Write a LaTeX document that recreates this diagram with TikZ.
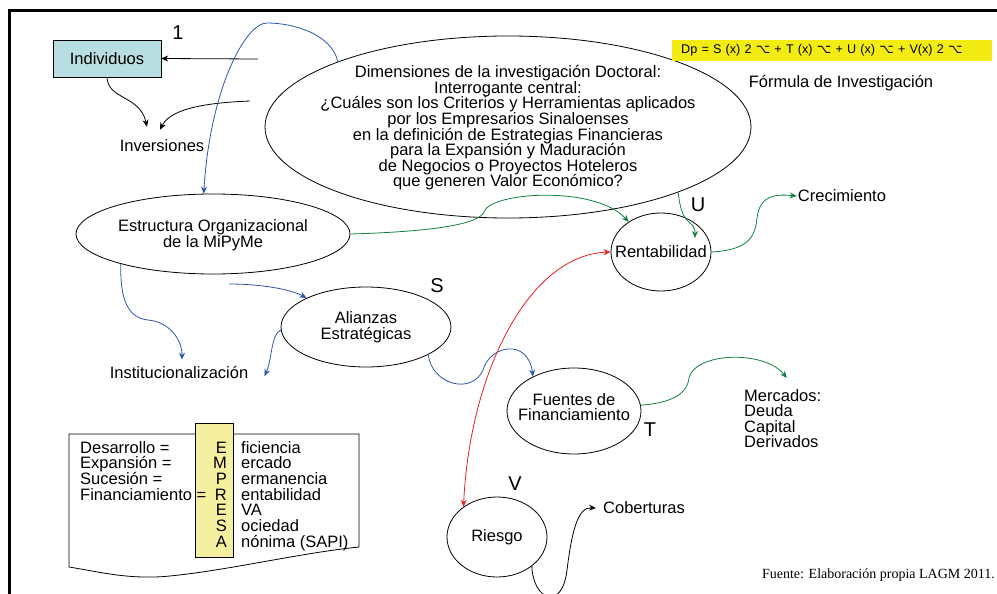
\documentclass[tikz,border=0pt]{standalone}
\usepackage{fontspec}
\setmainfont{Liberation Sans}
\newfontfamily\timesf{Liberation Serif}
\newfontfamily\symf{DejaVu Sans}
\usetikzlibrary{shapes.geometric,arrows.meta}
\definecolor{azul}{RGB}{47,84,170}
\definecolor{verde}{RGB}{16,128,64}
\definecolor{rojo}{RGB}{235,30,35}
\definecolor{cian}{RGB}{183,222,224}
\definecolor{amarillo}{RGB}{242,236,20}
\definecolor{crema}{RGB}{245,240,160}

\begin{document}
\begin{tikzpicture}[x=1pt,y=-1pt,
  font=\fontsize{16.5}{15.6}\selectfont,
  >={Stealth[length=7pt,width=6pt]},
  ell/.style={draw,ellipse,inner sep=0pt,line width=0.8pt},
  lbl/.style={inner sep=0pt},
  letra/.style={inner sep=0pt,font=\fontsize{20}{20}\selectfont},
  neg/.style={line width=0.8pt,->},
  az/.style={azul,line width=0.8pt,->},
  ve/.style={verde,line width=0.8pt,->}]
\useasboundingbox (0,0) rectangle (997,594);
\draw[line width=3pt] (9,600) -- (9,11) -- (1000,11);

% nodos
\node[draw,fill=cian,minimum width=108pt,minimum height=37pt,inner sep=0pt] (ind) at (107,58.5) {Individuos};
\node[letra] (uno) at (178,33) {1};
\node[lbl] (inv) at (162,146) {Inversiones};

\node[ell,minimum width=486pt,minimum height=182pt] (preg) at (508,127) {};
\node[lbl,align=center] (pregT) at (508,128) {Dimensiones de la investigación Doctoral:\\
  Interrogante central:\\
  ¿Cuáles son los Criterios y Herramientas aplicados\\
  por los Empresarios Sinaloenses\\
  en la definición de Estrategias Financieras\\
  para la Expansión y Maduración\\
  de Negocios o Proyectos Hoteleros\\
  que generen Valor Económico?};

\node[fill=amarillo,inner ysep=0pt,inner xsep=9pt,minimum height=21pt,text width=302pt,align=left,anchor=west,
  font=\fontsize{12.6}{13}\selectfont] (dp) at (672,50.5)
  {Dp = S (x) 2 {\symf ⌥} + T (x) {\symf ⌥} + U (x) {\symf ⌥} + V(x) 2 {\symf ⌥}};
\node[lbl] (form) at (841,83) {Fórmula de Investigación};

\node[ell,minimum width=274pt,minimum height=80pt] (estr) at (213,234) {};
\node[lbl,align=center] (estrT) at (213,235) {Estructura Organizacional\\de la MiPyMe};

\node[ell,minimum width=100pt,minimum height=78pt] (ren) at (661,252) {};
\node[lbl] (renT) at (661,252) {Rentabilidad};
\node[letra] (letU) at (698,205) {U};
\node[lbl] (cre) at (842,196) {Crecimiento};

\node[ell,minimum width=170pt,minimum height=80pt] (ali) at (366,327) {};
\node[lbl,align=center] (aliT) at (366,327) {Alianzas\\Estratégicas};
\node[letra] (letS) at (437,286) {S};
\node[lbl] (ins) at (179,373) {Institucionalización};

\node[ell,minimum width=134pt,minimum height=86pt] (fue) at (574,411) {};
\node[lbl,align=center] (fueT) at (574,407) {Fuentes de\\Financiamiento};
\node[letra] (letT) at (650,430) {T};
\node[lbl,align=left,anchor=north west] (mer) at (744,389) {Mercados:\\Deuda\\Capital\\Derivados};

\node[ell,minimum width=100pt,minimum height=80pt] (rie) at (497,537) {};
\node[lbl] (rieT) at (497,537) {Riesgo};
\node[letra] (letV) at (515,484) {V};
\node[lbl] (cob) at (644,508) {Coberturas};

\node[lbl,anchor=east,font=\timesf\fontsize{14}{14}\selectfont] (fte) at (995,575) {Fuente: Elaboración propia LAGM 2011.};

% EMPRESA
\draw[line width=0.8pt] (69,567) -- (69,434) -- (359,434) -- (359,547)
  .. controls (300,553) and (230,570) .. (170,576) .. controls (130,580) and (100,572) .. (69,567);
\draw[fill=crema,line width=0.8pt] (195,423) rectangle (233,557);
\foreach \t [count=\i] in {Desarrollo =,Expansión =,Sucesión =,Financiamiento =} {
  \node[lbl,anchor=base west] (d\i) at (80,{453+15.7*(\i-1)}) {\t};
}
\foreach \l/\w [count=\i] in {E/ficiencia,M/ercado,P/ermanencia,R/entabilidad,E/VA,S/ociedad,A/nónima (SAPI)} {
  \node[lbl,anchor=base east] (l\i) at (227,{453+15.7*(\i-1)}) {\l};
  \node[lbl,anchor=base west] (w\i) at (241,{453+15.7*(\i-1)}) {\w};
}

% conectores
\coordinate (iniInd) at (258,59);
\coordinate (iniInv) at (250,101);
\coordinate (iniAli) at (229,284);
\coordinate (puntaU) at (695,238);

\draw[neg] (iniInd) -- (ind.east);
\draw[neg] (ind.south) .. controls (108,100) and (140,95) .. ([xshift=-15pt,yshift=13pt]inv.north);
\draw[neg] (iniInv) .. controls (200,103) and (170,110) .. ([xshift=-2pt,yshift=10pt]inv.north);

\draw[az] (preg.159) .. controls (332,35) and (295,23) .. (267,23)
  .. controls (245,23) and (210,90) .. (estr.103);
\draw[az] (estr.198) .. controls (120,300) and (128,318) .. (148,320)
  .. controls (170,322) and (182,340) .. ([xshift=3pt,yshift=7pt]ins.north);
\draw[az] (iniAli) .. controls (260,284) and (290,289) .. (ali.154);
\draw[az] (ali.182) .. controls (271,334) and (272,360) .. ([xshift=16pt,yshift=-3pt]ins.east);
\draw[az] (ali.-24) .. controls (432,385) and (472,395) .. (483,370)
  .. controls (490,345) and (528,338) .. (fue.140);

\draw[ve] (estr.east) .. controls (420,232) and (478,226) .. (484,212)
  .. controls (490,192) and (595,185) .. (ren.137);
\draw[ve] (preg.-21) .. controls (682,230) and (695,218) .. (puntaU);
\draw[ve] (ren.east) .. controls (745,250) and (755,240) .. (757,218)
  .. controls (760,195) and (775,194) .. ([xshift=-1pt]cre.west);
\draw[ve] (fue.5) .. controls (670,403) and (687,395) .. (689,378)
  .. controls (695,352) and (765,350) .. ([xshift=4pt,yshift=11pt]mer.north);

\draw[rojo,line width=0.8pt,<->] (ren.180) .. controls (530,255) and (470,370) .. (rie.138);

\draw[neg] (rie.-40) .. controls (533,600) and (562,612) .. (567,570)
  .. controls (572,530) and (578,507) .. ([xshift=-7pt]cob.west);
\end{tikzpicture}
\end{document}
